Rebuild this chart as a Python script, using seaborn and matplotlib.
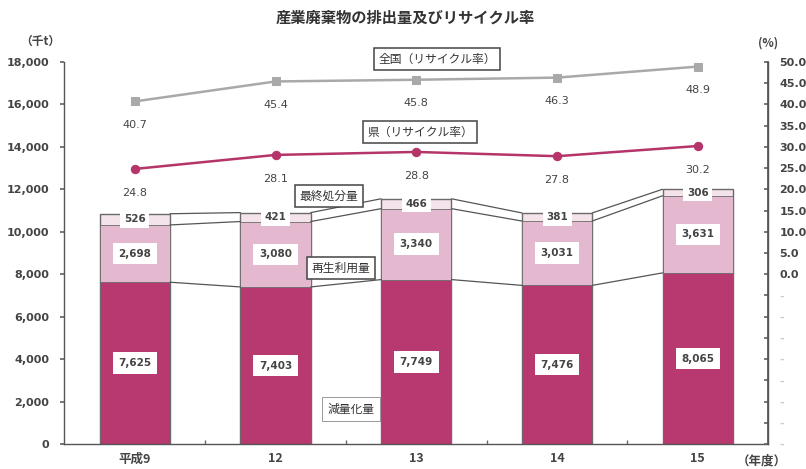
import matplotlib
matplotlib.use("Agg")
import matplotlib.pyplot as plt
import seaborn as sns
import pandas as pd
import numpy as np

sns.set_theme(style="white")
plt.rcParams["font.family"] = ["Noto Sans CJK JP", "DejaVu Sans"]

years = ["平成9", "12", "13", "14", "15"]
reduction = [7625, 7403, 7749, 7476, 8065]      # 減量化量
recycled = [2698, 3080, 3340, 3031, 3631]       # 再生利用量
final_disposal = [526, 421, 466, 381, 306]      # 最終処分量
rate_national = [40.7, 45.4, 45.8, 46.3, 48.9]  # 全国（リサイクル率）
rate_pref = [24.8, 28.1, 28.8, 27.8, 30.2]      # 県（リサイクル率）

c_dark = "#b8396f"
c_mid = "#e4b9d0"
c_light = "#f4e3ea"
c_edge = "#6a6a6a"
c_text = "#444444"
num_font = "DejaVu Sans"

fig = plt.figure(figsize=(8.06, 4.69), dpi=100)
ax = fig.add_axes([0.080, 0.053, 0.873, 0.815])

df = pd.DataFrame({"year": years, "reduction": reduction,
                   "recycled": recycled, "final": final_disposal})
df["lvl1"] = df["reduction"]
df["lvl2"] = df["reduction"] + df["recycled"]
df["lvl3"] = df["lvl2"] + df["final"]

width = 0.5
# stacked bars drawn back to front with seaborn
sns.barplot(data=df, x="year", y="lvl3", color=c_light, width=width,
            edgecolor=c_edge, linewidth=1.0, saturation=1, ax=ax)
sns.barplot(data=df, x="year", y="lvl2", color=c_mid, width=width,
            edgecolor=c_edge, linewidth=0.6, saturation=1, ax=ax)
sns.barplot(data=df, x="year", y="lvl1", color=c_dark, width=width,
            edgecolor=c_edge, linewidth=0.6, saturation=1, ax=ax)

x = np.arange(len(years))
# connector lines between neighbouring bars
for col in ["lvl1", "lvl2", "lvl3"]:
    v = df[col].values
    for i in range(len(x) - 1):
        ax.plot([x[i] + width / 2, x[i + 1] - width / 2], [v[i], v[i + 1]],
                color="#555555", lw=0.9, zorder=1)

box = dict(boxstyle="square,pad=0.55", fc="white", ec="none")
for i in range(len(x)):
    ax.text(x[i], reduction[i] / 2, f"{reduction[i]:,}", ha="center", va="center",
            fontsize=7.5, color=c_text, fontweight="bold", family=num_font,
            bbox=box, zorder=5)
    ax.text(x[i], df["lvl1"][i] + recycled[i] / 2, f"{recycled[i]:,}", ha="center",
            va="center", fontsize=7.5, color=c_text, fontweight="bold",
            family=num_font, bbox=box, zorder=5)
    ax.text(x[i], df["lvl2"][i] + final_disposal[i] / 2, f"{final_disposal[i]:,}",
            ha="center", va="center", fontsize=7.5, color=c_text, fontweight="bold",
            family=num_font,
            bbox=dict(boxstyle="square,pad=0.35", fc="white", ec="none"), zorder=5)

ax.set_xlim(-0.5, 4.5)
ax.set_ylim(0, 18000)
ax.set_yticks(range(0, 18001, 2000))
ax.set_yticklabels([f"{v:,}" for v in range(0, 18001, 2000)], fontsize=8,
                   color=c_text, fontweight="bold", family=num_font)
ax.set_xticks(x)
ax.set_xticklabels(years, fontsize=9, color=c_text, fontweight="bold")
ax.set_xticks(np.arange(0.5, 4.5, 1), minor=True)
ax.tick_params(axis="x", which="major", length=0, pad=6)
ax.tick_params(axis="x", which="minor", direction="in", length=3, color="#666666", bottom=True)
ax.tick_params(axis="y", direction="out", length=3, color="#666666", left=True, pad=8)
ax.set_xlabel("")
ax.set_ylabel("")
ax.spines["top"].set_visible(False)
for s in ["left", "bottom", "right"]:
    ax.spines[s].set_color("#555555")
    ax.spines[s].set_linewidth(1.0)

# right axis: recycling rate
ax2 = ax.twinx()
ax2.set_ylim(-40, 50)
ticks = np.arange(-40, 50.1, 5)
ax2.set_yticks(ticks)
ax2.set_yticklabels([f"{t:.1f}" if t >= 0 else "-" for t in ticks],
                    fontsize=8, color=c_text, fontweight="bold", family=num_font)
for lbl, t in zip(ax2.get_yticklabels(), ticks):
    if t < 0:
        lbl.set_color("#cccccc")
ax2.tick_params(axis="y", direction="in", length=3, color="#666666", right=True, pad=8)
for s in ["top", "left", "bottom"]:
    ax2.spines[s].set_visible(False)
ax2.spines["right"].set_color("#555555")

lines = pd.DataFrame({"x": np.concatenate([x, x]),
                      "rate": rate_national + rate_pref,
                      "area": ["全国"] * 5 + ["県"] * 5})
sns.lineplot(data=lines[lines.area == "全国"], x="x", y="rate", color="#a9a9a9",
             marker="s", markersize=6, lw=1.8, markeredgecolor="#a9a9a9", ax=ax2)
sns.lineplot(data=lines[lines.area == "県"], x="x", y="rate", color="#b5346a",
             marker="o", markersize=6, lw=1.8, markeredgecolor="#b5346a", ax=ax2)
ax2.set_xlabel("")
ax2.set_ylabel("")
ax2.set_xlim(-0.5, 4.5)
for i in range(len(x)):
    ax2.annotate(f"{rate_national[i]:.1f}", (x[i], rate_national[i]), xytext=(0, -17),
                 textcoords="offset points", ha="center", va="center",
                 fontsize=8, color=c_text, family=num_font)
    ax2.annotate(f"{rate_pref[i]:.1f}", (x[i], rate_pref[i]), xytext=(0, -17),
                 textcoords="offset points", ha="center", va="center",
                 fontsize=8, color=c_text, family=num_font)

# callout labels
lab = dict(boxstyle="square,pad=0.35", fc="white", ec="#444444", lw=1.1)
fig.text(437 / 806, 1 - 59 / 469, "全国（リサイクル率）", ha="center", va="center",
         fontsize=8.5, color="#333333", bbox=lab)
fig.text(420 / 806, 1 - 132 / 469, "県（リサイクル率）", ha="center", va="center",
         fontsize=8.5, color="#333333", bbox=lab)
fig.text(329 / 806, 1 - 196 / 469, "最終処分量", ha="center", va="center",
         fontsize=8.5, color="#333333", bbox=lab)
fig.text(341 / 806, 1 - 268 / 469, "再生利用量", ha="center", va="center",
         fontsize=8.5, color="#333333", bbox=lab)
fig.text(351 / 806, 1 - 409 / 469, "減量化量", ha="center", va="center",
         fontsize=8.5, color="#333333",
         bbox=dict(boxstyle="square,pad=0.5", fc="white", ec="#888888", lw=0.6))

fig.text(405 / 806, 1 - 18 / 469, "産業廃棄物の排出量及びリサイクル率", ha="center",
         va="center", fontsize=11, fontweight="bold", color="#333333")
fig.text(40 / 806, 1 - 41 / 469, "（千t）", ha="center", va="center", fontsize=8.5,
         fontweight="bold", color=c_text)
fig.text(768 / 806, 1 - 43 / 469, "(%)", ha="center", va="center", fontsize=8.5,
         fontweight="bold", color=c_text)
fig.text(762 / 806, 1 - 461 / 469, "（年度）", ha="center", va="center", fontsize=9,
         fontweight="bold", color=c_text)

fig.savefig("out.png", dpi=100, facecolor="white")
